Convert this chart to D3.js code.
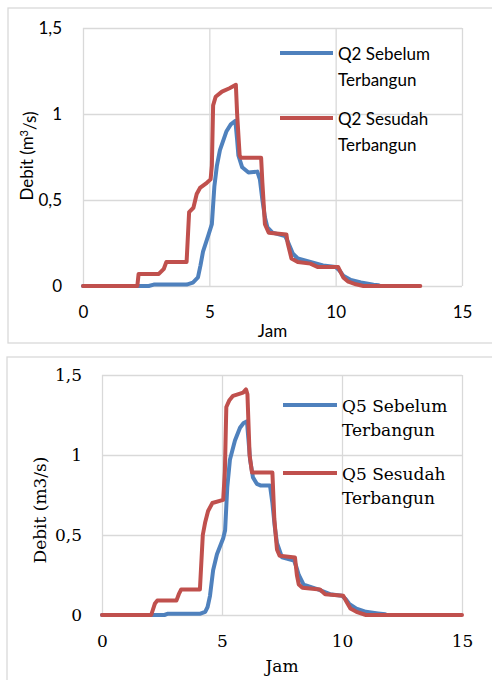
<!DOCTYPE html>
<html>
<head>
<meta charset="utf-8">
<script src="https://cdn.jsdelivr.net/npm/d3@7/dist/d3.min.js"></script>
<style>
  html, body { margin: 0; padding: 0; background: #fff; }
  svg { display: block; }
</style>
</head>
<body>
<svg id="chart" width="492" height="680"></svg>
<script>
// ---------- DATA ----------
const xTicks = [0, 5, 10, 15];
const yTicks = [0, 0.5, 1, 1.5];

// Chart 1 (Q2) : [jam, debit]
const q2Sebelum = [[0,0],[2.6,0],[2.8,0.008],[4.1,0.008],[4.35,0.02],[4.55,0.05],[4.65,0.12],[4.75,0.2],[4.95,0.29],[5.1,0.36],[5.2,0.58],[5.3,0.7],[5.42,0.79],[5.68,0.9],[5.85,0.94],[6.03,0.96],[6.1,0.85],[6.15,0.76],[6.3,0.69],[6.55,0.66],[6.9,0.665],[7.0,0.62],[7.1,0.5],[7.2,0.4],[7.3,0.34],[7.5,0.31],[8.0,0.29],[8.1,0.26],[8.3,0.19],[8.5,0.16],[9.0,0.14],[9.5,0.12],[10.0,0.11],[10.15,0.09],[10.3,0.06],[10.6,0.035],[11.0,0.02],[11.5,0.008],[11.7,0.005]];
const q2Sesudah = [[0,0],[2.15,0],[2.2,0.07],[3.0,0.07],[3.1,0.085],[3.2,0.1],[3.3,0.14],[4.1,0.14],[4.2,0.43],[4.37,0.455],[4.5,0.535],[4.63,0.57],[4.9,0.6],[5.05,0.62],[5.1,0.7],[5.15,1.05],[5.25,1.1],[5.5,1.13],[5.8,1.15],[6.05,1.17],[6.1,1.0],[6.2,0.76],[6.25,0.745],[7.05,0.745],[7.1,0.6],[7.2,0.36],[7.35,0.31],[8.05,0.3],[8.1,0.25],[8.25,0.16],[8.5,0.14],[9.0,0.13],[9.3,0.11],[10.1,0.11],[10.3,0.05],[10.5,0.025],[10.8,0.01],[11.1,0],[13.35,0]];

// Chart 2 (Q5) : [jam, debit]
const q5Sebelum = [[0,0],[2.6,0],[2.75,0.008],[4.1,0.008],[4.3,0.02],[4.4,0.05],[4.5,0.12],[4.63,0.28],[4.79,0.38],[5.05,0.48],[5.13,0.53],[5.22,0.8],[5.33,0.97],[5.54,1.09],[5.75,1.17],[5.9,1.2],[6.04,1.21],[6.1,1.1],[6.17,0.97],[6.29,0.86],[6.45,0.82],[6.6,0.81],[7.0,0.81],[7.1,0.7],[7.2,0.55],[7.29,0.45],[7.5,0.36],[8.0,0.34],[8.1,0.3],[8.2,0.25],[8.4,0.19],[9.0,0.16],[9.5,0.13],[10.0,0.12],[10.15,0.1],[10.3,0.07],[10.6,0.04],[11.0,0.02],[11.5,0.01],[11.8,0.005]];
const q5Sesudah = [[0,0],[2.05,0],[2.2,0.07],[2.3,0.09],[3.1,0.09],[3.2,0.13],[3.3,0.16],[4.08,0.16],[4.2,0.5],[4.3,0.58],[4.42,0.65],[4.6,0.7],[5.05,0.72],[5.12,0.9],[5.18,1.3],[5.3,1.34],[5.46,1.37],[5.88,1.39],[6.0,1.41],[6.06,1.38],[6.15,1.0],[6.25,0.89],[7.1,0.89],[7.18,0.6],[7.29,0.41],[7.4,0.37],[8.04,0.36],[8.12,0.25],[8.2,0.19],[8.35,0.17],[9.08,0.16],[9.3,0.13],[10.05,0.12],[10.2,0.08],[10.35,0.04],[10.6,0.02],[11.0,0],[15,0]];

const seriesNames1 = [["Q2 Sebelum", "Terbangun"], ["Q2 Sesudah", "Terbangun"]];
const seriesNames2 = [["Q5 Sebelum", "Terbangun"], ["Q5 Sesudah", "Terbangun"]];
const colors = ["#4F81BD", "#C0504D"];

// ---------- DRAW ----------
const svg = d3.select("#chart");
const fmt = d => String(d).replace(".", ",");

function drawChart(cfg) {
  const g = svg.append("g");
  // chart border
  g.append("rect")
    .attr("x", cfg.box[0]).attr("y", cfg.box[1])
    .attr("width", cfg.box[2]).attr("height", cfg.box[3])
    .attr("fill", "none").attr("stroke", "#D9D9D9").attr("stroke-width", 1.3);

  const x = d3.scaleLinear().domain([0, 15]).range([cfg.left, cfg.right]);
  const y = d3.scaleLinear().domain([0, 1.5]).range([cfg.bottom, cfg.top]);

  // gridlines
  g.append("g").attr("transform", `translate(0,${cfg.bottom})`)
    .call(d3.axisBottom(x).tickValues(xTicks).tickSize(-(cfg.bottom - cfg.top)).tickFormat(""))
    .call(s => s.select(".domain").remove())
    .call(s => s.selectAll("line").attr("stroke", "#D9D9D9").attr("stroke-width", 1.3));
  g.append("g").attr("transform", `translate(${cfg.left},0)`)
    .call(d3.axisLeft(y).tickValues(yTicks).tickSize(-(cfg.right - cfg.left)).tickFormat(""))
    .call(s => s.select(".domain").remove())
    .call(s => s.selectAll("line").attr("stroke", "#D9D9D9").attr("stroke-width", 1.3));

  // tick labels
  g.append("g").attr("transform", `translate(0,${cfg.bottom})`)
    .call(d3.axisBottom(x).tickValues(xTicks).tickSize(0).tickPadding(cfg.xPad).tickFormat(fmt))
    .call(s => s.select(".domain").remove())
    .call(s => s.selectAll("text").attr("font-family", cfg.font).attr("font-size", cfg.fs).attr("fill", "#000"));
  g.append("g").attr("transform", `translate(${cfg.left},0)`)
    .call(d3.axisLeft(y).tickValues(yTicks).tickSize(0).tickPadding(cfg.yPad).tickFormat(fmt))
    .call(s => s.select(".domain").remove())
    .call(s => s.selectAll("text").attr("font-family", cfg.font).attr("font-size", cfg.fs).attr("fill", "#000"));

  // lines
  const line = d3.line().x(d => x(d[0])).y(d => y(d[1]));
  cfg.series.forEach((s, i) => {
    g.append("path").datum(s)
      .attr("d", line).attr("fill", "none")
      .attr("stroke", colors[i]).attr("stroke-width", 4)
      .attr("stroke-linejoin", "round").attr("stroke-linecap", "round");
  });

  // axis titles
  g.append("text").attr("x", (cfg.left + cfg.right) / 2).attr("y", cfg.xTitleY)
    .attr("text-anchor", "middle").attr("dy", "0.35em")
    .attr("font-family", cfg.font).attr("font-size", cfg.fs).attr("fill", "#000").text("Jam");
  const yt = g.append("text")
    .attr("transform", `translate(${cfg.yTitleX},${cfg.yTitleY}) rotate(-90)`)
    .attr("text-anchor", "middle").attr("dy", "0.35em")
    .attr("font-family", cfg.font).attr("font-size", cfg.fs).attr("fill", "#000");
  if (cfg.superscript) {
    yt.append("tspan").text("Debit (m");
    yt.append("tspan").attr("dy", "-0.45em").attr("font-size", cfg.fs * 0.65).text("3");
    yt.append("tspan").attr("dy", "0.45em").text("/s)");
  } else {
    yt.text("Debit (m3/s)");
  }

  // legend
  cfg.names.forEach((nm, i) => {
    const ly = cfg.legY[i];
    g.append("line").attr("x1", cfg.legX1).attr("x2", cfg.legX2)
      .attr("y1", ly).attr("y2", ly)
      .attr("stroke", colors[i]).attr("stroke-width", 4);
    nm.forEach((t, j) => {
      g.append("text").attr("x", cfg.legTextX).attr("y", ly + j * cfg.legLine + (j === 0 ? 1 : 0))
        .attr("dy", "0.35em")
        .attr("font-family", cfg.font).attr("font-size", cfg.fs).attr("fill", "#000").text(t);
    });
  });
}

drawChart({
  box: [8, 8, 500, 335],
  left: 83, right: 462, top: 28, bottom: 286,
  font: "Lato, 'Open Sans', sans-serif", fs: 17,
  xPad: 20, yPad: 21, xTitleY: 331, yTitleX: 27, yTitleY: 156,
  superscript: true,
  series: [q2Sebelum, q2Sesudah], names: seriesNames1,
  legX1: 280, legX2: 333, legTextX: 338, legY: [53, 118], legLine: 27
});

drawChart({
  box: [7, 357, 500, 340],
  left: 102, right: 462, top: 375, bottom: 615,
  font: "'DejaVu Serif', serif", fs: 17,
  xPad: 20, yPad: 20, xTitleY: 666, yTitleX: 40, yTitleY: 510,
  superscript: false,
  series: [q5Sebelum, q5Sesudah], names: seriesNames2,
  legX1: 283, legX2: 337, legTextX: 342, legY: [405, 473], legLine: 25
});
</script>
</body>
</html>
